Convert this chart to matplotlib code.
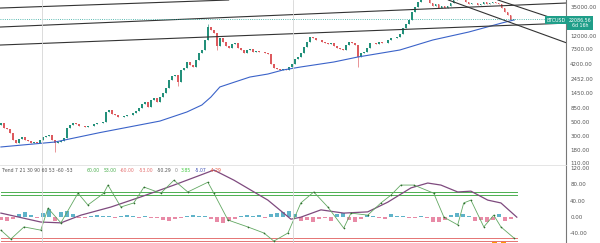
import matplotlib
matplotlib.use("Agg")
import matplotlib.pyplot as plt

# weekly-ish closes (every 3 weeks)
closes = [484, 403, 389, 335, 259, 232, 268, 289, 259, 249,
          232, 240, 232, 259, 289, 300, 311, 259, 232, 240,
          249, 278, 403, 450, 484, 467, 434, 434, 418, 434,
          434, 467, 484, 484, 502, 727, 783, 675, 651, 604,
          604, 627, 651, 651, 700, 754, 843, 977, 1050, 875,
          1130, 1220, 1050, 1260, 1470, 1760, 2370, 2740, 2850, 2200,
          3420, 3690, 4600, 4120, 3830, 4950, 6410, 7160, 10360, 16730,
          14980, 13410, 8300, 11150, 9620, 8300, 7710, 8940, 9270, 7710,
          7160, 6410, 7160, 7430, 6650, 6900, 6650, 6650, 6410, 6180,
          4270, 3690, 3550, 3420, 3550, 3420, 3830, 4270, 5140, 5530,
          6410, 8000, 9620, 11570, 11150, 10360, 10360, 9620, 9270, 8940,
          9270, 8300, 7710, 7430, 7160, 8610, 9620, 9270, 8610, 5530,
          6410, 6650, 7710, 9270, 9270, 8940, 9620, 9270, 9270, 10360,
          11150, 11150, 11570, 12930, 16130, 18690, 21660, 29100, 35000, 42100,
          50600, 60900, 48800, 40570, 36300, 39100, 33700, 36300, 33700, 36300,
          40570, 45300, 54500, 58700, 52500, 42100, 39100, 40570, 40570, 37700,
          39100, 42100, 39100, 40570, 42100, 40570, 39100, 33700, 29100, 26050,
          21660, 22086]
first_open = 450
wick_idx = [18, 59, 69, 72, 119]
wick_low = [166, 1900, 16730, 7160, 3830]
wick_high = [240, 2850, 18690, 13410, 8610]

# blue moving average
ma_idx = [0, 18, 33, 53, 62, 67, 70, 73, 78, 83, 89, 94, 100, 111, 119,
          133, 144, 156, 167, 171]
ma_vals = [200, 240, 340, 520, 727, 941, 1260, 1830, 2200, 2640, 2950, 3420,
           3830, 4600, 5530, 7160, 10360, 13910, 19390, 21660]

# trend lines: two points each (index, price)
trend_lines = [((0, 33700), (66.7, 43700)),
               ((0, 16730), (188.7, 40570)),
               ((0, 8610), (181, 18690)),
               ((151, 42100), (188.7, 9270)),
               ((165.7, 45300), (188.7, 19390))]

last_price = 22086.56
countdown = "6d 16h"
symbol = "BTCUSD"
price_ticks = [35000, 12000, 7300, 4200, 2452, 1450, 850, 500, 300, 180, 110]

# indicator pane
slow_idx = [0, 13.3, 20, 26.7, 36.7, 46.7, 57.7, 66.7, 71, 77.7, 89, 96.7,
            100, 106.7, 114.3, 122.3, 129, 136.7, 142.3, 146.7, 152.3,
            156.7, 162.3, 166.7, 172]
slow_vals = [9, -13, -15, 4, 24, 49, 78, 103, 115, 90, 41, -6, -1, 17, 9, 12,
             36, 71, 83, 78, 61, 63, 41, 34, -1]
fast_idx = [0, 3.3, 7.7, 13.3, 15.7, 20, 25.7, 29, 34.3, 35.7, 40, 44.3, 47.7,
            53.3, 57.7, 62.3, 69, 71, 75.7, 82.3, 87.7, 91, 95.7, 100, 104.3,
            109, 114.3, 116.7, 122.3, 126.7, 130, 133.3, 137.7, 144.3, 147.7,
            152.3, 154.3, 156.7, 161, 164.3, 166.7, 171]
fast_vals = [-33, -55, -25, -33, 21, -15, 58, 29, 58, 78, 24, 34, 73, 58, 90,
             61, 85, 58, -8, -25, -40, -60, -40, 34, 61, 24, -28, 9, 4, 34,
             53, 78, 78, 58, -1, -20, 34, 41, -25, 4, -25, -52]
hist_vals = [-8, -10, -6, 8, 12, 4, -4, 10, 18, -10, 12, 15, 6, -4, -3, 3, 5,
             3, 2, -3, 2, 4, 3, -2, 3, -3, -4, -8, -10, -6, -3, 2, 4, 3, 2,
             -5, -12, -15, -10, -6, 3, 5, 2, 4, -3, 6, 10, 12, 14, 8, -10, -8,
             -12, -6, -4, -10, 6, 10, -8, -12, -6, 4, 3, -4, -6, 6, 3, 2, -2,
             -4, 2, -3, -12, -14, -8, 4, 10, 6, 3, -10, -8, -12, -8, 8, -10,
             -6]
upper_levels = [60, 53]
lower_levels = [-60, -53]
signal_idx = [164.5, 167.5]
osc_ticks = [120, 80, 40, 0, -40]
legend_title = "Trend 7 21 30 90 60 53 -60 -53"
legend_vals = [("60.00", "#4caf50"), ("53.00", "#4caf50"), ("-60.00", "#e57373"),
               ("-53.00", "#e57373"), ("-50.29", "#555555"), ("0", "#888888"),
               ("3.85", "#43c943"), ("-5.07", "#3f51b5"), ("-4.29", "#e5533d")]

UP = "#23907a"
DOWN = "#dd5a5e"
GRID = "#d6d6d6"
TXT = "#555555"

fig = plt.figure(figsize=(6, 2.43), dpi=100)
W, H = 600.0, 243.0
ax1 = fig.add_axes([0, 1 - 164 / H, 566 / W, 164 / H])
ax2 = fig.add_axes([0, 0, 566 / W, 78 / H], sharex=ax1)

# candles
opens = [first_open] + closes[:-1]
xs = list(range(len(closes)))
highs = [max(o, c) for o, c in zip(opens, closes)]
lows = [min(o, c) for o, c in zip(opens, closes)]
for i, lo, hi in zip(wick_idx, wick_low, wick_high):
    lows[i] = min(lows[i], lo)
    highs[i] = max(highs[i], hi)
cols = [UP if c >= o else DOWN for o, c in zip(opens, closes)]
ax1.vlines(xs, lows, highs, colors=cols, linewidth=0.45)
ax1.bar(xs, [abs(c - o) for o, c in zip(opens, closes)],
        bottom=[min(o, c) for o, c in zip(opens, closes)],
        width=0.45, color=cols, linewidth=0)

ax1.plot(ma_idx, ma_vals, color="#3b63c9", linewidth=0.8)
for p1, p2 in trend_lines:
    ax1.axline(p1, p2, color="#333333", linewidth=0.8)
ax1.axhline(last_price, color="#26a69a", linewidth=0.6, linestyle=":")

ax1.set_yscale("log")
ax1.set_ylim(106.7, 45300)
ax1.set_xlim(-0.3, 188.4)
ax1.set_yticks(price_ticks)
ax1.set_yticklabels(["%.2f" % t for t in price_ticks])
ax1.minorticks_off()

# indicator
ax2.bar(range(0, 2 * len(hist_vals), 2), hist_vals, width=1.2,
        color=["#5fb3c9" if v > 0 else "#e88aa6" for v in hist_vals], linewidth=0)
for lv in upper_levels:
    ax2.plot([0, 172], [lv, lv], color="#4caf50", linewidth=0.7)
for lv in lower_levels:
    ax2.plot([0, 172], [lv, lv], color="#e57373", linewidth=0.7)
ax2.plot(slow_idx, slow_vals, color="#7e4a7e", linewidth=0.9)
ax2.plot(fast_idx, fast_vals, color="#62a862", linewidth=0.6,
         marker="o", markersize=1.2, markerfacecolor="#2e6b2e", markeredgewidth=0)
ax2.bar(signal_idx, [6, 6], bottom=-64.6, width=1.8, color="#ff9800", linewidth=0)
ax2.set_ylim(-64.6, 127.4)
ax2.set_yticks(osc_ticks)
ax2.set_yticklabels(["%.2f" % t for t in osc_ticks])

for ax in (ax1, ax2):
    ax.axvline(13.7, color=GRID, linewidth=0.6)
    ax.axvline(97.3, color=GRID, linewidth=0.6)
    for s in ("left", "bottom", "top"):
        ax.spines[s].set_visible(False)
    ax.spines["right"].set_color("#777777")
    ax.spines["right"].set_linewidth(0.8)
    ax.yaxis.tick_right()
    ax.tick_params(axis="y", length=0, pad=3, labelsize=4, labelcolor=TXT)
    ax.tick_params(axis="x", bottom=False, labelbottom=False)
    ax.set_facecolor("white")
ax2.spines["top"].set_visible(True)
ax2.spines["top"].set_color("#e0e0e0")
ax2.spines["top"].set_linewidth(0.6)

# price labels on the axis
fig.text(556 / W, 1 - 20 / H, symbol, ha="center", va="center", fontsize=3.4,
         color="white", bbox=dict(boxstyle="square,pad=0.25", fc="#1f9e89", ec="none"))
fig.text(580 / W, 1 - 23 / H, "%.2f\n%s" % (last_price, countdown), ha="center",
         va="center", fontsize=3.4, color="white", linespacing=1.1,
         bbox=dict(boxstyle="square,pad=0.3", fc="#1f9e89", ec="none"))

# indicator legend row
fig.canvas.draw()
r = fig.canvas.get_renderer()
fig.text(1 / W, 1 - 170 / H, legend_title, fontsize=3.3, color=TXT, va="center")
x = 87 / W
for s, c in legend_vals:
    t = fig.text(x, 1 - 170 / H, s, fontsize=3.3, color=c, va="center")
    x += t.get_window_extent(r).width / W + 3.5 / W

fig.savefig("out.png", dpi=100)
